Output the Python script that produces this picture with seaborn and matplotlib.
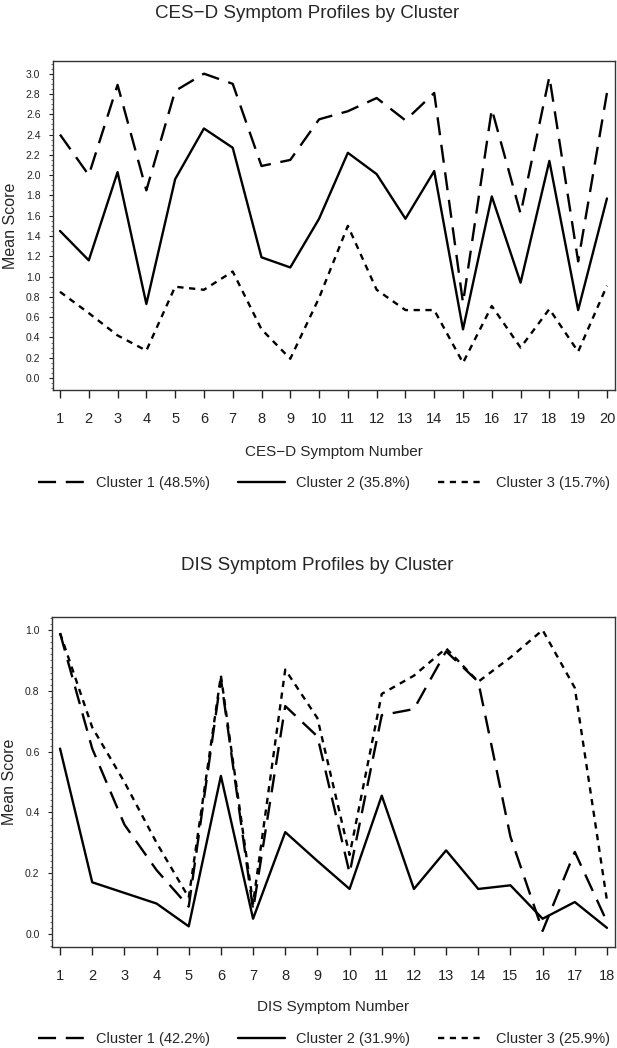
import pandas as pd
import seaborn as sns
import matplotlib.pyplot as plt
from matplotlib.ticker import MultipleLocator

# CES-D profiles
ces_symptoms = [1, 2, 3, 4, 5, 6, 7, 8, 9, 10, 11, 12, 13, 14, 15, 16, 17, 18, 19, 20]
ces_cluster1 = [2.40, 2.00, 2.89, 1.85, 2.83, 3.00, 2.90, 2.09, 2.15, 2.55,
                2.63, 2.76, 2.54, 2.81, 0.74, 2.65, 1.62, 2.97, 1.15, 2.81]
ces_cluster2 = [1.45, 1.16, 2.03, 0.73, 1.96, 2.46, 2.27, 1.19, 1.09, 1.57,
                2.22, 2.01, 1.57, 2.04, 0.48, 1.79, 0.94, 2.14, 0.67, 1.77]
ces_cluster3 = [0.85, 0.64, 0.42, 0.27, 0.90, 0.87, 1.05, 0.48, 0.19, 0.79,
                1.50, 0.87, 0.67, 0.67, 0.15, 0.71, 0.30, 0.68, 0.26, 0.91]
ces_labels = ['Cluster 1 (48.5%)', 'Cluster 2 (35.8%)', 'Cluster 3 (15.7%)']
ces_yticks = [0.0, 0.2, 0.4, 0.6, 0.8, 1.0, 1.2, 1.4, 1.6, 1.8, 2.0, 2.2, 2.4, 2.6, 2.8, 3.0]

# DIS profiles
dis_symptoms = [1, 2, 3, 4, 5, 6, 7, 8, 9, 10, 11, 12, 13, 14, 15, 16, 17, 18]
dis_cluster1 = [0.99, 0.61, 0.36, 0.21, 0.09, 0.84, 0.08, 0.75, 0.65,
                0.20, 0.72, 0.74, 0.93, 0.83, 0.32, 0.01, 0.27, 0.04]
dis_cluster2 = [0.61, 0.17, 0.135, 0.10, 0.025, 0.52, 0.05, 0.335, 0.24,
                0.148, 0.455, 0.148, 0.275, 0.148, 0.16, 0.05, 0.105, 0.02]
dis_cluster3 = [0.99, 0.68, 0.50, 0.30, 0.12, 0.85, 0.10, 0.87, 0.71,
                0.26, 0.79, 0.85, 0.94, 0.83, 0.91, 1.00, 0.81, 0.11]
dis_labels = ['Cluster 1 (42.2%)', 'Cluster 2 (31.9%)', 'Cluster 3 (25.9%)']
dis_yticks = [0.0, 0.2, 0.4, 0.6, 0.8, 1.0]

sns.set_theme(style='ticks')
plt.rcParams['font.family'] = ['Liberation Sans', 'DejaVu Sans']
plt.rcParams['lines.scale_dashes'] = False


def long_form(symptoms, series, labels):
    frames = []
    for vals, lab in zip(series, labels):
        frames.append(pd.DataFrame({'symptom': symptoms, 'score': vals, 'cluster': lab}))
    return pd.concat(frames, ignore_index=True)


def profile_plot(fig, rect, df, labels, yticks, xlim, ylim, xlabel,
                 title, title_xy, legend_y, xlabel_y):
    ax = fig.add_axes(rect)
    dashes = {labels[0]: (13, 7), labels[1]: '', labels[2]: (4.5, 4)}
    sns.lineplot(data=df, x='symptom', y='score', style='cluster',
                 style_order=labels, dashes=dashes, color='black',
                 lw=1.7, ax=ax, legend=False)
    ax.set_xlim(*xlim)
    ax.set_ylim(*ylim)
    ax.set_xticks(sorted(df['symptom'].unique()))
    ax.set_yticks(yticks)
    ax.set_yticklabels(['{:.1f}'.format(t) for t in yticks])
    ax.yaxis.set_minor_locator(MultipleLocator(0.05 if ylim[1] > 2 else 0.02))
    ax.tick_params(axis='x', length=6, width=1, pad=10, labelsize=10.5, colors='#222222')
    ax.tick_params(axis='y', which='major', length=3, width=0.8, pad=6, labelsize=7.5, colors='#222222')
    ax.tick_params(axis='y', which='minor', length=1.5, width=0.6, colors='#555555')
    for s in ax.spines.values():
        s.set_visible(True)
        s.set_linewidth(1.0)
        s.set_color('#333333')
    ax.set_xlabel(xlabel, fontsize=11)
    ax.xaxis.set_label_coords(0.5, xlabel_y)
    ax.xaxis.label.set_va('center')
    ax.set_ylabel('Mean Score', fontsize=11.5)
    ax.yaxis.set_label_coords(-0.076, 0.5)
    ax.yaxis.label.set_va('center')
    fig.text(title_xy[0], title_xy[1], title, ha='center', va='center', fontsize=13.5)
    fig.legend(ax.lines[:3], labels, loc='center left',
               bbox_to_anchor=(38 / 617, legend_y), ncol=3, frameon=False,
               fontsize=10.5, handlelength=3.2, handletextpad=0.8,
               columnspacing=1.9, borderpad=0, borderaxespad=0)
    return ax


fig = plt.figure(figsize=(6.17, 10.48), dpi=100)

ces_df = long_form(ces_symptoms, [ces_cluster1, ces_cluster2, ces_cluster3], ces_labels)
profile_plot(fig, [53 / 617, 1 - 390 / 1048, 562 / 617, 329 / 1048], ces_df, ces_labels,
             ces_yticks, (0.757, 20.28), (-0.118, 3.125),
             'CES\u2212D Symptom Number', 'CES\u2212D Symptom Profiles by Cluster',
             (307 / 617, 1 - 14 / 1048), 1 - 483 / 1048, (390 - 452) / 329)

dis_df = long_form(dis_symptoms, [dis_cluster1, dis_cluster2, dis_cluster3], dis_labels)
profile_plot(fig, [52 / 617, 1 - 947 / 1048, 563 / 617, 330 / 1048], dis_df, dis_labels,
             dis_yticks, (0.75, 18.25), (-0.043, 1.043),
             'DIS Symptom Number', 'DIS Symptom Profiles by Cluster',
             (317.5 / 617, 1 - 565 / 1048), 1 - 1039 / 1048, (947 - 1007) / 330)

fig.savefig('out.png', dpi=100, facecolor='white')
